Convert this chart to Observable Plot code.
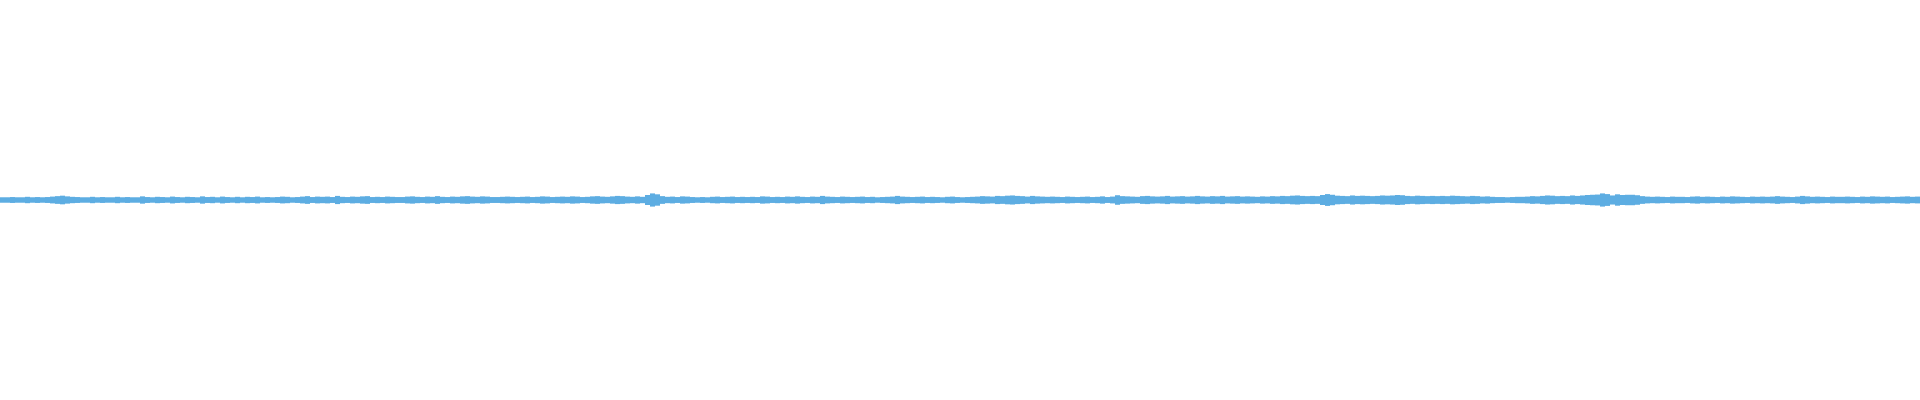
<!DOCTYPE html>
<html>
<head>
<meta charset="utf-8">
<script src="https://cdn.jsdelivr.net/npm/d3@7"></script>
<script src="https://cdn.jsdelivr.net/npm/@observablehq/plot@0.6"></script>
<style>
  html, body { margin: 0; padding: 0; background: #ffffff; }
  #chart svg { display: block; }
</style>
</head>
<body>
<div id="chart"></div>
<script>
// Waveform peak amplitude per bin, in per-mille of full scale (symmetric min/max)
const peaks = [
  12,12,13,12,12,14,12,13,12,13,15,17,19,16,14,13,
  12,12,14,12,13,12,12,14,12,13,12,12,16,13,12,14,
  13,12,15,13,12,14,13,12,16,13,14,12,15,13,12,14,
  12,14,13,15,12,13,12,13,15,14,12,13,15,17,13,15,
  14,15,13,18,14,13,15,14,16,17,13,14,13,15,14,13,
  13,15,16,14,13,15,14,17,14,13,15,14,16,17,15,14,
  16,15,13,13,14,15,14,13,14,15,13,14,16,15,13,14,
  15,14,16,15,13,14,16,17,15,14,16,18,17,15,14,16,
  14,22,29,25,17,14,15,13,16,15,13,12,13,12,14,15,
  13,14,15,13,14,13,14,13,16,15,13,14,13,15,14,16,
  14,13,15,14,18,15,14,13,15,14,13,14,15,13,14,12,
  13,14,15,18,15,14,13,14,15,13,14,13,12,14,15,13,
  12,13,14,15,17,16,15,18,17,19,20,18,17,15,18,16,
  15,14,15,14,13,15,14,13,14,15,13,14,16,13,15,21,
  17,16,15,14,17,18,16,15,16,18,15,16,17,15,16,18,
  16,15,17,16,18,15,16,17,15,16,15,14,16,15,17,16,
  18,17,19,20,18,17,18,17,22,26,23,19,18,17,20,18,
  19,18,17,18,20,19,20,22,21,18,17,19,18,17,18,17,
  18,17,19,18,17,16,18,17,15,16,14,13,13,12,13,14,
  14,15,17,16,18,20,19,17,18,17,20,18,20,22,23,24,
  29,26,20,25,22,23,23,21,17,15,14,15,14,13,15,14,
  14,13,15,16,14,15,14,13,15,14,16,15,14,13,15,14,
  15,14,15,17,15,14,13,15,18,16,14,15,14,13,15,14,
  14,15,14,13,15,14,16,15,14,15,13,14,15,16,14,15
];

const bins = peaks.map((a, i) => ({i, lo: -a, hi: a}));

const chart = Plot.plot({
  width: 1920,
  height: 400,
  margin: 0,
  x: {domain: [0, peaks.length], axis: null},
  y: {domain: [-880, 880], axis: null},
  marks: [
    Plot.rect(bins, {
      x1: "i",
      x2: d => d.i + 1,
      y1: "lo",
      y2: "hi",
      fill: "#5dade2",
      inset: 0
    })
  ]
});
document.getElementById("chart").appendChild(chart);
</script>
</body>
</html>
